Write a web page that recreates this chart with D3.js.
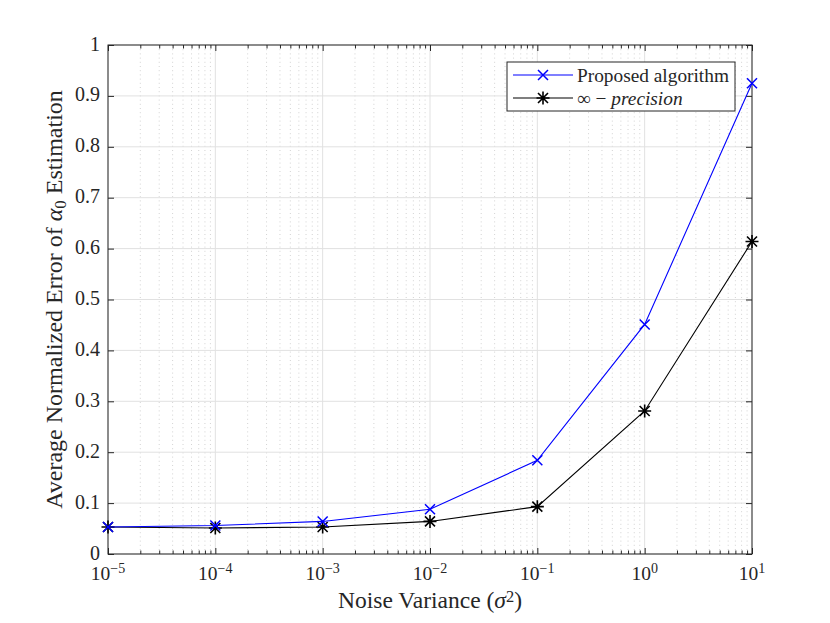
<!DOCTYPE html>
<html>
<head>
<meta charset="utf-8">
<script src="https://cdn.jsdelivr.net/npm/d3@7"></script>
<style>
  body { margin: 0; background: #fff; }
  text { font-family: "Liberation Serif", "DejaVu Serif", serif; fill: #262626; }
</style>
</head>
<body>
<svg id="chart" width="830" height="623"></svg>
<script>
// noise variance values (sigma^2)
const noiseVar = [1e-5, 1e-4, 1e-3, 1e-2, 1e-1, 1e0, 1e1];
// average normalized error of alpha0 estimation
const proposed = [0.053, 0.056, 0.064, 0.088, 0.184, 0.451, 0.925];
const infPrecision = [0.053, 0.051, 0.053, 0.064, 0.093, 0.281, 0.614];
const xTickExp = [-5, -4, -3, -2, -1, 0, 1];
const yTicks = [0, 0.1, 0.2, 0.3, 0.4, 0.5, 0.6, 0.7, 0.8, 0.9, 1];

const margin = {top: 45, right: 78, bottom: 69, left: 108};
const width = 830 - margin.left - margin.right;
const height = 623 - margin.top - margin.bottom;

const svg = d3.select('#chart');
const g = svg.append('g').attr('transform', `translate(${margin.left},${margin.top})`);

const x = d3.scaleLog().domain([1e-5, 10]).range([0, width]);
const y = d3.scaleLinear().domain([0, 1]).range([height, 0]);

// scale a text's font so it spans the wanted width (the original used a wider TeX font)
function fitWidth(sel, target) {
  const fs = parseFloat(sel.attr('font-size'));
  const w = sel.node().getComputedTextLength();
  sel.attr('font-size', fs * target / w);
}

// minor x positions
const minorX = [];
for (let e = -5; e < 1; e++) {
  for (let m = 2; m <= 9; m++) minorX.push(m * Math.pow(10, e));
}

// minor grid (dotted)
g.append('g').selectAll('line')
  .data(minorX)
  .join('line')
    .attr('x1', d => x(d)).attr('x2', d => x(d))
    .attr('y1', 0).attr('y2', height)
    .attr('stroke', '#c8c8c8')
    .attr('stroke-width', 0.8)
    .attr('stroke-dasharray', '1,3.2');

// major grid
g.append('g').selectAll('line')
  .data(yTicks)
  .join('line')
    .attr('x1', 0).attr('x2', width)
    .attr('y1', d => y(d)).attr('y2', d => y(d))
    .attr('stroke', '#e1e1e1');
g.append('g').selectAll('line')
  .data(noiseVar)
  .join('line')
    .attr('x1', d => x(d)).attr('x2', d => x(d))
    .attr('y1', 0).attr('y2', height)
    .attr('stroke', '#e1e1e1');

// axes (ticks inward, box on)
const axisColor = '#262626';
function styleAxis(sel) {
  sel.select('.domain').remove();
  sel.selectAll('line').attr('stroke', axisColor);
}
g.append('g').attr('transform', `translate(0,${height})`)
  .call(d3.axisBottom(x).tickValues(noiseVar).tickSize(-6).tickFormat(''))
  .call(styleAxis);
g.append('g').attr('transform', `translate(0,${height})`)
  .call(d3.axisBottom(x).tickValues(minorX).tickSize(-3.5).tickFormat(''))
  .call(styleAxis);
g.append('g')
  .call(d3.axisTop(x).tickValues(noiseVar).tickSize(-6).tickFormat(''))
  .call(styleAxis);
g.append('g')
  .call(d3.axisTop(x).tickValues(minorX).tickSize(-3.5).tickFormat(''))
  .call(styleAxis);
g.append('g')
  .call(d3.axisLeft(y).tickValues(yTicks).tickSize(-6).tickFormat(''))
  .call(styleAxis);
g.append('g').attr('transform', `translate(${width},0)`)
  .call(d3.axisRight(y).tickValues(yTicks).tickSize(-6).tickFormat(''))
  .call(styleAxis);

g.append('rect')
  .attr('width', width).attr('height', height)
  .attr('fill', 'none').attr('stroke', axisColor).attr('stroke-width', 1);

// tick labels
g.append('g').selectAll('text')
  .data(yTicks)
  .join('text')
    .attr('x', -8)
    .attr('y', d => y(d) + 5.5)
    .attr('text-anchor', 'end')
    .attr('font-size', 20)
    .text(d => d3.format('~g')(d));

const xl = g.append('g').selectAll('text')
  .data(xTickExp)
  .join('text')
    .attr('x', d => x(Math.pow(10, d)))
    .attr('y', height + 25.5)
    .attr('text-anchor', 'middle')
    .attr('font-size', 19.5);
xl.append('tspan').text('10');
xl.append('tspan')
  .attr('dy', '-0.47em')
  .attr('font-size', '0.72em')
  .text(d => d < 0 ? '\u2212' + (-d) : String(d));

// axis labels
const xLab = g.append('text')
  .attr('x', width / 2)
  .attr('y', height + 54)
  .attr('text-anchor', 'middle')
  .attr('font-size', 21);
xLab.append('tspan').text('Noise Variance (');
xLab.append('tspan').attr('font-style', 'italic').text('\u03c3');
xLab.append('tspan').attr('dy', '-0.38em').attr('font-size', '0.7em').text('2');
xLab.append('tspan').attr('dy', '0.27em').text(')');
fitWidth(xLab, 184);

const yLab = g.append('text')
  .attr('transform', `translate(-46,${height / 2}) rotate(-90)`)
  .attr('text-anchor', 'middle')
  .attr('font-size', 21);
yLab.append('tspan').text('Average Normalized Error of ');
yLab.append('tspan').attr('font-style', 'italic').text('\u03b1');
yLab.append('tspan').attr('dy', '0.24em').attr('font-size', '0.7em').text('0');
yLab.append('tspan').attr('dy', '-0.17em').text(' Estimation');
fitWidth(yLab, 419);

// series
const line = d3.line().x(d => x(d[0])).y(d => y(d[1]));
const series = [
  {name: 'proposed', color: '#0000ff', values: proposed, marker: 'x'},
  {name: 'inf', color: '#000000', values: infPrecision, marker: '*'}
];

function drawMarker(sel, type, color, r) {
  const paths = type === 'x'
    ? `M${-r},${-r}L${r},${r}M${-r},${r}L${r},${-r}`
    : `M${-r},${-r}L${r},${r}M${-r},${r}L${r},${-r}M0,${-r * 1.3}L0,${r * 1.3}M${-r * 1.3},0L${r * 1.3},0`;
  sel.append('path')
    .attr('d', paths)
    .attr('stroke', color)
    .attr('stroke-width', type === 'x' ? 1.5 : 1.6)
    .attr('fill', 'none');
}

series.slice().reverse().forEach(s => {
  const pts = noiseVar.map((v, i) => [v, s.values[i]]);
  g.append('path')
    .datum(pts)
    .attr('d', line)
    .attr('fill', 'none')
    .attr('stroke', s.color)
    .attr('stroke-width', 1.1);
  g.append('g').selectAll('g')
    .data(pts)
    .join('g')
      .attr('transform', d => `translate(${x(d[0])},${y(d[1])})`)
      .each(function () { drawMarker(d3.select(this), s.marker, s.color, 5); });
});

// legend
const lg = svg.append('g').attr('transform', 'translate(507,62)');
lg.append('rect')
  .attr('width', 228).attr('height', 49)
  .attr('fill', '#fff').attr('stroke', axisColor).attr('stroke-width', 1);
const legendRows = [
  {label: 'Proposed algorithm', color: '#0000ff', marker: 'x'},
  {label: 'inf', color: '#000000', marker: '*'}
];
let legendFont = 19;
legendRows.forEach((r, i) => {
  const row = lg.append('g').attr('transform', `translate(0,${13 + i * 23})`);
  row.append('line')
    .attr('x1', 6).attr('x2', 66)
    .attr('stroke', r.color).attr('stroke-width', 1.1);
  const m = row.append('g').attr('transform', 'translate(36,0)');
  drawMarker(m, r.marker, r.color, 5);
  const t = row.append('text')
    .attr('x', 70).attr('y', 6.5)
    .attr('font-size', legendFont);
  if (r.marker === 'x') {
    t.text(r.label);
    fitWidth(t, 152);
    legendFont = parseFloat(t.attr('font-size'));
  } else {
    t.append('tspan').text('\u221e \u2212 ');
    t.append('tspan').attr('font-style', 'italic').text('precision');
  }
});
</script>
</body>
</html>
